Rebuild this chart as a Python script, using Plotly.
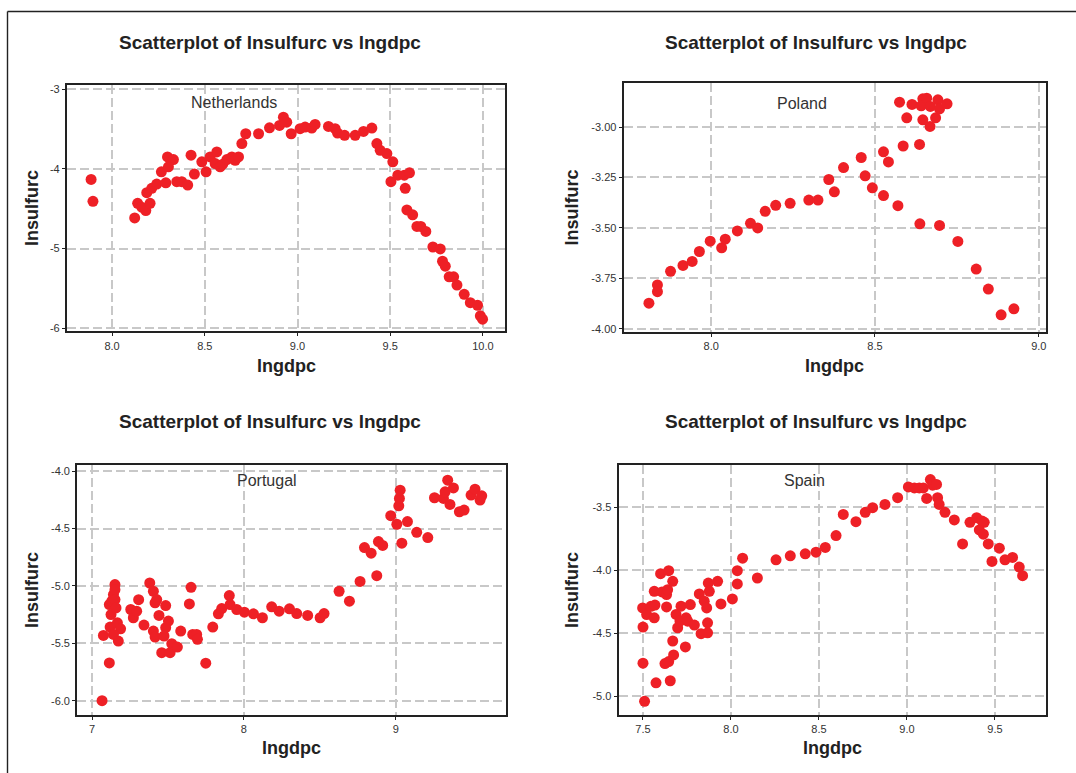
import plotly.graph_objects as go

# ---------------- data ----------------
nl_lngdpc = [7.887, 7.897, 8.122, 8.138, 8.160, 8.182, 8.205, 8.187, 8.214, 8.241, 8.266, 8.290,
             8.299, 8.331, 8.304, 8.349, 8.376, 8.408, 8.426, 8.444, 8.484, 8.507, 8.529, 8.556,
             8.565, 8.583, 8.597, 8.619, 8.646, 8.664, 8.682, 8.700, 8.721, 8.790, 8.849, 8.903,
             8.924, 8.942, 8.966, 9.014, 9.041, 9.077, 9.095, 9.167, 9.203, 9.216, 9.254, 9.311,
             9.356, 9.401, 9.428, 9.446, 9.482, 9.514, 9.504, 9.541, 9.576, 9.604, 9.581, 9.590,
             9.621, 9.644, 9.665, 9.692, 9.730, 9.770, 9.782, 9.797, 9.818, 9.842, 9.860, 9.899,
             9.932, 9.971, 9.986, 9.998]
nl_lnsulfurc = [-4.132, -4.407, -4.615, -4.432, -4.481, -4.523, -4.432, -4.298, -4.244, -4.190,
                -4.036, -4.174, -3.849, -3.882, -3.974, -4.161, -4.161, -4.203, -3.828, -4.065,
                -3.911, -4.036, -3.849, -3.932, -3.787, -3.974, -3.940, -3.882, -3.849, -3.891,
                -3.849, -3.682, -3.558, -3.558, -3.483, -3.454, -3.350, -3.412, -3.558, -3.495,
                -3.474, -3.487, -3.441, -3.466, -3.495, -3.549, -3.578, -3.578, -3.529, -3.487,
                -3.682, -3.766, -3.807, -3.911, -4.161, -4.078, -4.078, -4.049, -4.244, -4.515,
                -4.577, -4.723, -4.723, -4.785, -4.981, -5.006, -5.160, -5.222, -5.355, -5.355,
                -5.459, -5.576, -5.680, -5.713, -5.846, -5.888]

pl_lngdpc = [7.810, 7.836, 7.836, 7.876, 7.914, 7.942, 7.964, 7.997, 8.032, 8.043, 8.080, 8.120,
             8.142, 8.165, 8.197, 8.241, 8.298, 8.326, 8.359, 8.376, 8.404, 8.458, 8.470, 8.492,
             8.526, 8.526, 8.541, 8.570, 8.575, 8.586, 8.597, 8.613, 8.636, 8.637, 8.646, 8.641,
             8.646, 8.658, 8.669, 8.668, 8.685, 8.692, 8.697, 8.720, 8.697, 8.753, 8.809, 8.846,
             8.885, 8.924]
pl_lnsulfurc = [-3.873, -3.783, -3.816, -3.715, -3.686, -3.666, -3.617, -3.566, -3.599, -3.556,
                -3.515, -3.477, -3.500, -3.418, -3.388, -3.378, -3.362, -3.362, -3.260, -3.321,
                -3.201, -3.151, -3.242, -3.301, -3.123, -3.340, -3.173, -3.390, -2.877, -3.094,
                -2.954, -2.888, -3.086, -3.480, -2.860, -2.895, -2.964, -2.857, -2.898, -2.997,
                -2.954, -2.865, -2.910, -2.885, -3.488, -3.567, -3.704, -3.803, -3.931, -3.901]

pt_lngdpc = [7.066, 7.075, 7.114, 7.119, 7.125, 7.114, 7.130, 7.141, 7.151, 7.151, 7.151, 7.158,
             7.167, 7.173, 7.188, 7.141, 7.255, 7.272, 7.294, 7.307, 7.342, 7.380, 7.404, 7.415,
             7.426, 7.404, 7.415, 7.441, 7.459, 7.485, 7.503, 7.485, 7.474, 7.514, 7.525, 7.562,
             7.584, 7.641, 7.652, 7.663, 7.689, 7.694, 7.749, 7.795, 7.832, 7.854, 7.904, 7.909,
             7.953, 8.003, 8.063, 8.122, 8.183, 8.232, 8.300, 8.348, 8.420, 8.502, 8.528, 8.627,
             8.695, 8.765, 8.794, 8.838, 8.875, 8.886, 8.914, 8.967, 9.007, 9.020, 9.024, 9.029,
             9.040, 9.077, 9.138, 9.211, 9.255, 9.314, 9.325, 9.342, 9.357, 9.380, 9.419, 9.450,
             9.496, 9.522, 9.555, 9.566]
pt_lnsulfurc = [-6.000, -5.431, -5.671, -5.358, -5.249, -5.162, -5.133, -5.075, -4.988, -5.032,
                -5.118, -5.191, -5.321, -5.480, -5.373, -5.422, -5.205, -5.277, -5.220, -5.119,
                -5.341, -4.974, -5.046, -5.147, -5.118, -5.393, -5.445, -5.257, -5.581, -5.171,
                -5.306, -5.364, -5.436, -5.581, -5.503, -5.532, -5.393, -5.156, -5.012, -5.422,
                -5.422, -5.465, -5.673, -5.358, -5.243, -5.197, -5.084, -5.162, -5.205, -5.228,
                -5.243, -5.277, -5.182, -5.220, -5.199, -5.240, -5.257, -5.277, -5.240, -5.046,
                -5.133, -4.960, -4.665, -4.714, -4.910, -4.613, -4.647, -4.387, -4.462, -4.301,
                -4.237, -4.165, -4.627, -4.439, -4.532, -4.578, -4.231, -4.237, -4.179, -4.078,
                -4.289, -4.145, -4.353, -4.338, -4.208, -4.156, -4.251, -4.214]

es_lngdpc = [7.509, 7.500, 7.574, 7.655, 7.500, 7.498, 7.521, 7.545, 7.564, 7.568, 7.564, 7.600,
             7.608, 7.634, 7.634, 7.646, 7.640, 7.669, 7.625, 7.646, 7.674, 7.669, 7.688, 7.697,
             7.716, 7.710, 7.741, 7.745, 7.754, 7.769, 7.792, 7.820, 7.830, 7.848, 7.862, 7.867,
             7.867, 7.871, 7.877, 7.924, 7.943, 8.008, 8.036, 8.036, 8.066, 8.150, 8.256, 8.337,
             8.422, 8.483, 8.536, 8.597, 8.638, 8.710, 8.763, 8.805, 8.875, 8.947, 9.008, 9.042,
             9.070, 9.093, 9.112, 9.133, 9.146, 9.168, 9.174, 9.183, 9.216, 9.269, 9.316, 9.358,
             9.396, 9.426, 9.439, 9.411, 9.434, 9.462, 9.483, 9.525, 9.557, 9.600, 9.638, 9.657]
es_lnsulfurc = [-5.039, -4.737, -4.892, -4.876, -4.451, -4.299, -4.352, -4.286, -4.377, -4.276,
                -4.167, -4.028, -4.172, -4.193, -4.291, -4.004, -4.154, -4.088, -4.740, -4.724,
                -4.671, -4.561, -4.351, -4.456, -4.285, -4.403, -4.608, -4.377, -4.404, -4.272,
                -4.435, -4.188, -4.503, -4.246, -4.299, -4.417, -4.496, -4.102, -4.167, -4.088,
                -4.267, -4.228, -4.109, -4.004, -3.905, -4.062, -3.918, -3.886, -3.870, -3.857,
                -3.820, -3.726, -3.558, -3.616, -3.542, -3.505, -3.479, -3.426, -3.340, -3.348,
                -3.348, -3.348, -3.432, -3.282, -3.327, -3.321, -3.426, -3.479, -3.542, -3.602,
                -3.792, -3.621, -3.584, -3.610, -3.621, -3.681, -3.715, -3.792, -3.931, -3.826,
                -3.918, -3.899, -3.975, -4.044]

countries = ["Netherlands", "Poland", "Portugal", "Spain"]
x_series = [nl_lngdpc, pl_lngdpc, pt_lngdpc, es_lngdpc]
y_series = [nl_lnsulfurc, pl_lnsulfurc, pt_lnsulfurc, es_lnsulfurc]

x_ranges = [[7.757, 10.119], [7.733, 9.022], [6.903, 9.724], [7.362, 9.790]]
y_ranges = [[-6.04, -2.94], [-4.016, -2.781], [-6.121, -3.948], [-5.144, -3.169]]
x_ticks = [[8.0, 8.5, 9.0, 9.5, 10.0], [8.0, 8.5, 9.0], [7, 8, 9], [7.5, 8.0, 8.5, 9.0, 9.5]]
x_ticklabels = [["8.0", "8.5", "9.0", "9.5", "10.0"], ["8.0", "8.5", "9.0"], ["7", "8", "9"],
                ["7.5", "8.0", "8.5", "9.0", "9.5"]]
y_ticks = [[-3, -4, -5, -6], [-3.0, -3.25, -3.5, -3.75, -4.0], [-4.0, -4.5, -5.0, -5.5, -6.0],
           [-3.5, -4.0, -4.5, -5.0]]
y_ticklabels = [["-3", "-4", "-5", "-6"], ["-3.00", "-3.25", "-3.50", "-3.75", "-4.00"],
                ["-4.0", "-4.5", "-5.0", "-5.5", "-6.0"], ["-3.5", "-4.0", "-4.5", "-5.0"]]
label_pos = [(8.655, -3.16), (8.278, -2.885), (8.150, -4.078), (8.417, -3.287)]

title_text = "Scatterplot of lnsulfurc vs lngdpc"
x_title = "lngdpc"
y_title = "lnsulfurc"

# ---------------- layout ----------------
W, H = 1076, 773
FONT = "Liberation Sans, Arial, Helvetica, sans-serif"

# plot areas in pixels (left, right, top, bottom)
boxes = [(67, 505, 84, 332), (623.7, 1046, 82.3, 332.7), (77.3, 505.7, 466.7, 717.3), (618.7, 1046, 466.7, 717.3)]
title_centers = [270, 816, 270, 816]

fig = go.Figure()
annotations = []
for i in range(4):
    n = "" if i == 0 else str(i + 1)
    fig.add_trace(go.Scatter(
        x=x_series[i], y=y_series[i], mode="markers",
        marker=dict(color="#EE2026", size=11, line=dict(width=0)),
        xaxis="x" + n, yaxis="y" + n, showlegend=False, name=countries[i]))
    l, r, t, b = boxes[i]
    axis_common = dict(
        showline=True, linewidth=2.2, linecolor="#222222", mirror=True,
        showgrid=True, gridcolor="#C8C8C8", gridwidth=1.6, griddash="9px,4px",
        zeroline=False, ticks="outside", ticklen=3, tickwidth=1.2, tickcolor="#222222",
        tickfont=dict(family=FONT, size=11, color="#333333"),
    )
    fig.layout["xaxis" + n] = dict(
        axis_common, domain=[l / W, r / W], range=x_ranges[i], anchor="y" + n,
        tickmode="array", tickvals=x_ticks[i], ticktext=x_ticklabels[i])
    fig.layout["yaxis" + n] = dict(
        axis_common, domain=[1 - b / H, 1 - t / H], range=y_ranges[i], anchor="x" + n,
        tickmode="array", tickvals=y_ticks[i], ticktext=y_ticklabels[i])

    cx = (l + r) / 2
    row_top = 42 if i < 2 else 423
    annotations.append(dict(text="<b>" + title_text + "</b>", x=title_centers[i] / W,
                            y=1 - row_top / H, xref="paper", yref="paper", showarrow=False,
                            xanchor="center", yanchor="middle",
                            font=dict(family=FONT, size=19, color="#222222")))
    xt_y = 367 if i < 2 else 750.7
    annotations.append(dict(text="<b>" + x_title + "</b>", x=cx / W, y=1 - xt_y / H,
                            xref="paper", yref="paper", showarrow=False,
                            xanchor="center", yanchor="middle",
                            font=dict(family=FONT, size=18, color="#222222")))
    yt_x = 32 if i % 2 == 0 else 572
    annotations.append(dict(text="<b>" + y_title + "</b>", x=yt_x / W, y=1 - ((t + b) / 2) / H,
                            xref="paper", yref="paper", showarrow=False, textangle=-90,
                            xanchor="center", yanchor="middle",
                            font=dict(family=FONT, size=18, color="#222222")))
    annotations.append(dict(text=countries[i], x=label_pos[i][0], y=label_pos[i][1],
                            xref="x" + n, yref="y" + n, showarrow=False,
                            xanchor="center", yanchor="middle",
                            font=dict(family=FONT, size=16, color="#333333")))

fig.update_layout(
    width=W, height=H, margin=dict(l=0, r=0, t=0, b=0),
    paper_bgcolor="white", plot_bgcolor="white",
    annotations=annotations,
    shapes=[
        dict(type="line", xref="paper", yref="paper", x0=7.5 / W, x1=1.02, y0=1 - 10.5 / H, y1=1 - 10.5 / H,
             line=dict(color="#222222", width=1.4)),
        dict(type="line", xref="paper", yref="paper", x0=7.5 / W, x1=7.5 / W, y0=-0.02, y1=1 - 10.5 / H,
             line=dict(color="#222222", width=1.4)),
    ],
)

fig.write_html("out.html", config={"displayModeBar": False},
               post_script="document.body.style.margin='0';document.body.style.overflow='hidden';")
